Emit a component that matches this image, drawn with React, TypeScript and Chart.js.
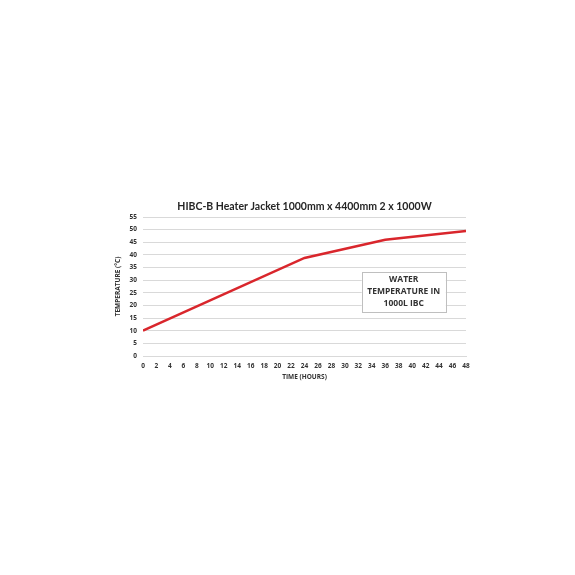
import { useEffect, useRef } from 'react';
import { Chart, ChartConfiguration, registerables, Plugin } from 'chart.js';

Chart.register(...registerables);

// readings
const hours: number[] = [0, 24, 36, 48];
const waterTemp: number[] = [10, 38.8, 46, 49.5];

const titleText = 'HIBC-B Heater Jacket 1000mm x 4400mm 2 x 1000W';
const noteLines: string[] = ['WATER', 'TEMPERATURE IN', '1000L IBC'];

const TITLE_FONT = 'Lato, "Open Sans", sans-serif';
const FONT = '"Open Sans", Lato, sans-serif';

// title above the plot + the note box, both placed off the chart area / scales
const overlayPlugin: Plugin = {
  id: 'overlay',
  afterDraw(chart) {
    const { ctx, chartArea, scales } = chart;
    ctx.save();
    ctx.fillStyle = '#262626';
    ctx.font = `bold 10.5px ${TITLE_FONT}`;
    ctx.textAlign = 'center';
    ctx.textBaseline = 'middle';
    ctx.fillText(titleText, (chartArea.left + chartArea.right) / 2, chartArea.top - 10);

    // note box, anchored in data units
    const x0 = scales.x.getPixelForValue(32.5);
    const x1 = scales.x.getPixelForValue(45);
    const y0 = scales.y.getPixelForValue(33.2);
    const y1 = scales.y.getPixelForValue(17.4);
    ctx.fillStyle = '#ffffff';
    ctx.fillRect(x0, y0, x1 - x0, y1 - y0);
    ctx.strokeStyle = '#bfbfbf';
    ctx.lineWidth = 1;
    ctx.strokeRect(Math.round(x0) + 0.5, Math.round(y0) + 0.5, Math.round(x1 - x0), Math.round(y1 - y0));
    ctx.fillStyle = '#333333';
    ctx.font = `bold 8.5px ${FONT}`;
    const cx = (x0 + x1) / 2;
    const cy = (y0 + y1) / 2;
    noteLines.forEach((t, i) => {
      ctx.fillText(t, cx, cy + (i - 1) * 12);
    });
    ctx.restore();
  },
};

export default function App() {
  const chartRef = useRef<HTMLCanvasElement>(null);
  const chartInstance = useRef<Chart | null>(null);

  useEffect(() => {
    if (!chartRef.current) return;
    const ctx = chartRef.current.getContext('2d');
    if (!ctx) return;

    if (chartInstance.current) {
      chartInstance.current.destroy();
    }

    const smallFont = { family: FONT, size: 6.5, weight: 'bold' as const };

    const config: ChartConfiguration = {
      type: 'line',
      data: {
        datasets: [
          {
            label: 'Water temperature',
            data: hours.map((h, i) => ({ x: h, y: waterTemp[i] })),
            borderColor: '#d9262c',
            borderWidth: 2.5,
            pointRadius: 0,
            tension: 0,
            fill: false,
          },
        ],
      },
      options: {
        responsive: false,
        animation: false,
        layout: {
          padding: { left: 105, right: 109, top: 217, bottom: 189 },
        },
        plugins: {
          legend: { display: false },
          title: { display: false },
          tooltip: { enabled: false },
        },
        scales: {
          x: {
            type: 'linear',
            min: 0,
            max: 48,
            afterFit: (scale) => {
              scale.height = 30;
            },
            grid: { display: false, drawTicks: false },
            border: { display: true, color: '#d9d9d9' },
            ticks: {
              stepSize: 2,
              padding: 6,
              color: '#333333',
              font: smallFont,
              maxRotation: 0,
              autoSkip: false,
            },
            title: {
              display: true,
              text: 'TIME (HOURS)',
              color: '#333333',
              font: smallFont,
              padding: { top: 0, bottom: 5 },
            },
          },
          y: {
            type: 'linear',
            min: 0,
            max: 55,
            afterFit: (scale) => {
              scale.width = 38;
            },
            grid: { color: '#d9d9d9', drawTicks: false },
            border: { display: false },
            ticks: {
              stepSize: 5,
              padding: 6,
              color: '#333333',
              font: smallFont,
            },
            title: {
              display: true,
              text: 'TEMPERATURE (°C)',
              color: '#333333',
              font: smallFont,
              padding: { top: 9, bottom: 0 },
            },
          },
        },
      },
      plugins: [overlayPlugin],
    };

    chartInstance.current = new Chart(ctx, config);

    return () => {
      if (chartInstance.current) {
        chartInstance.current.destroy();
        chartInstance.current = null;
      }
    };
  }, []);

  return (
    <div style={{ position: 'absolute', left: 0, top: 0, width: 575, height: 575, background: '#ffffff' }}>
      <canvas ref={chartRef} width={575} height={575} style={{ width: 575, height: 575 }} />
    </div>
  );
}
